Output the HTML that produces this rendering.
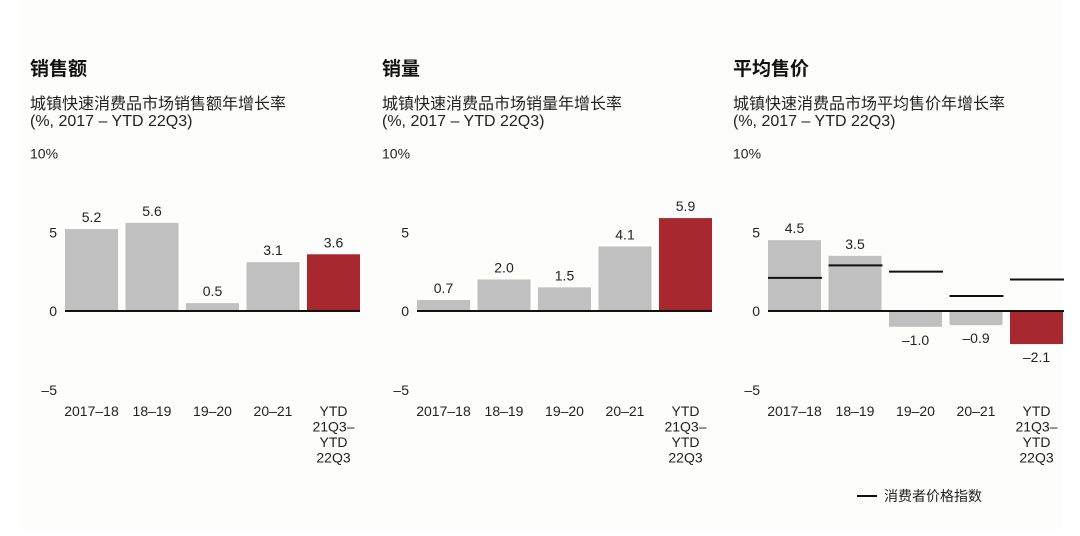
<!DOCTYPE html>
<html><head><meta charset="utf-8"><style>
html,body{margin:0;padding:0;background:#fff;}
svg{display:block;font-family:"Liberation Sans","Noto Sans CJK SC",sans-serif;}
</style></head><body>
<svg id="c" width="1080" height="536" viewBox="0 0 1080 536">
<rect x="20" y="0" width="1042" height="530" fill="#fdfdfc"/>
</svg>
<script>
const categories=["2017–18","18–19","19–20","20–21","YTD|21Q3–|YTD|22Q3"];
const salesValues=[5.2,5.6,0.5,3.1,3.6];
const volumeValues=[0.7,2.0,1.5,4.1,5.9];
const priceValues=[4.5,3.5,-1.0,-0.9,-2.1];
const cpiValues=[2.1,2.9,2.5,0.95,2.0];
const yTicks=[10,5,0,-5];
const yTickLabels=["10%","5","0","–5"];
const titles=["销售额","销量","平均售价"];
const subtitles=["城镇快速消费品市场销售额年增长率","城镇快速消费品市场销量年增长率","城镇快速消费品市场平均售价年增长率"];
const legendLabel="消费者价格指数";

const svg=document.getElementById('c');
const NS="http://www.w3.org/2000/svg";
function mk(t,a,txt){const e=document.createElementNS(NS,t);for(const k in a)e.setAttribute(k,a[k]);if(txt!=null)e.textContent=txt;svg.appendChild(e);return e;}
const zeroY=311, unit=15.75;
function y(v){return zeroY-v*unit;}
const panels=[{x0:0,vals:salesValues,name:'sales'},{x0:352,vals:volumeValues,name:'volume'},{x0:703,vals:priceValues,name:'price',cpi:cpiValues}];
function bx(x0,i){return x0+65+i*60.5;}
const bw=53;
panels.forEach((p,pi)=>{
  let e=mk('text',{x:p.x0+30,y:75,'font-size':19,'font-weight':'bold',fill:'#111'},titles[pi]);
  
  e=mk('text',{x:p.x0+30,y:109,'font-size':16,fill:'#222'},subtitles[pi]);
  
  e=mk('text',{x:p.x0+30,y:126,'font-size':16,fill:'#222'},"(%, 2017 – YTD 22Q3)");
  
  yTicks.forEach((t,ti)=>{
    const l=mk('text',{x:p.x0+(t===10?30:57),y:y(t)+5,'font-size':14,fill:'#222','text-anchor':t===10?'start':'end'},yTickLabels[ti]);
    
  });
  p.vals.forEach((v,i)=>{
    const x=bx(p.x0,i);
    const r=mk('rect',{x:x,y:Math.min(y(v),zeroY),width:bw,height:Math.abs(v)*unit,fill:i===4?'#a8282f':'#c0c0c0'});
    
    const ly=v>=0?y(v)-7:y(v)+18;
    const t=mk('text',{x:x+bw/2,y:ly,'font-size':14,fill:'#222','text-anchor':'middle'},(v<0?'–':'')+Math.abs(v).toFixed(1));
    
    categories[i].split('|').forEach((s,li)=>{
      const c=mk('text',{x:x+bw/2,y:416+li*15.5,'font-size':14,fill:'#222','text-anchor':'middle'},s);
      
    });
  });
  const ax=mk('line',{x1:bx(p.x0,0),x2:bx(p.x0,4)+bw+(p.cpi?1:0),y1:zeroY,y2:zeroY,stroke:'#111','stroke-width':2});
  
  if(p.cpi){p.cpi.forEach((v,i)=>{
    const x=bx(p.x0,i);
    const l=mk('line',{x1:x,x2:x+bw+1,y1:y(v),y2:y(v),stroke:'#111','stroke-width':2});
    
  });}
});
let lg=mk('line',{x1:857,x2:877,y1:496,y2:496,stroke:'#111','stroke-width':2});

lg=mk('text',{x:884,y:501,'font-size':14,fill:'#222'},legendLabel);

</script>
</body></html>
